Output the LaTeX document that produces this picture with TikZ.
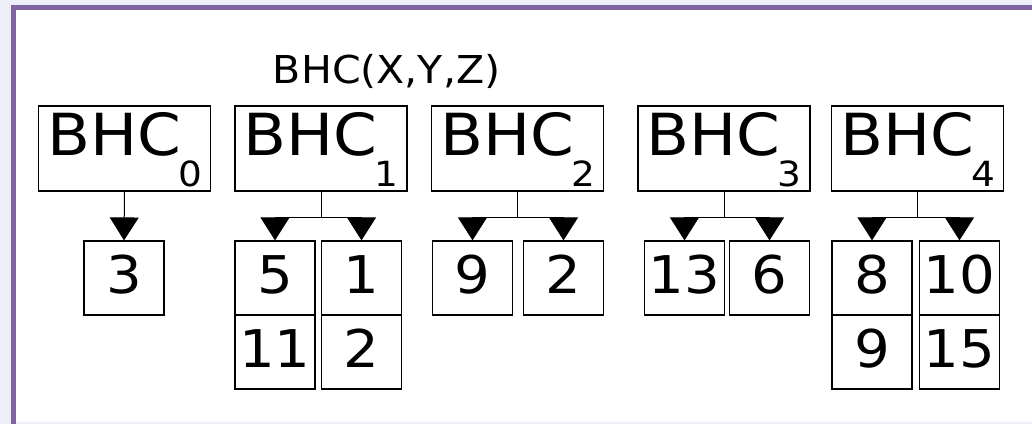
\documentclass[tikz,border=0pt]{standalone}
\usepackage{fontspec}
\setmainfont{DejaVu Sans}[FakeStretch=1.08]
\newfontfamily\titlefont{DejaVu Sans}[FakeStretch=1.07]
\usetikzlibrary{arrows.meta}
\definecolor{bgl}{HTML}{EEEEF8}
\definecolor{frm}{HTML}{8064A2}
\begin{document}
\begin{tikzpicture}[x=0.75pt,y=-0.75pt,
  box/.style={draw,line width=0.9pt,minimum width=129pt,minimum height=63.75pt,inner sep=0pt},
  cell/.style={draw,line width=0.9pt,minimum width=60pt,minimum height=55.5pt,inner sep=0pt,
    font=\fontsize{39pt}{39pt}\selectfont,text height=22.5pt,text depth=0pt},
  big/.style={inner sep=0pt,anchor=base west,font=\fontsize{43.5pt}{43.5pt}\selectfont},
  sub/.style={inner sep=0pt,anchor=base east,font=\fontsize{26pt}{26pt}\selectfont},
  conn/.style={line width=0.75pt},
  arr/.style={conn,-{Triangle[width=21.75pt,length=17.25pt]}}]
% background and frame
\fill[bgl] (0,0) rectangle (1032,424);
\fill[white] (16,10) rectangle (1032,422);
\fill[frm] (11,5) rectangle (16,424);
\fill[frm] (11,5) rectangle (1032,10);
\useasboundingbox (0,0) rectangle (1032,424);
% title
\node[inner sep=0pt,anchor=base west,font=\titlefont\fontsize{28.8pt}{28.8pt}\selectfont] (title) at (272.7,83.3) {BHC(X,Y,Z)};
% BHC boxes
\node[box] (b0) at (124.5,148.5) {};
\node[box] (b1) at (321,148.5) {};
\node[box] (b2) at (517.5,148.5) {};
\node[box] (b3) at (724,148.5) {};
\node[box] (b4) at (917.5,148.5) {};
\node[big] (t0) at (47,156) {BHC};
\node[big] (t1) at (243.5,156) {BHC};
\node[big] (t2) at (440,156) {BHC};
\node[big] (t3) at (646.5,156) {BHC};
\node[big] (t4) at (840,156) {BHC};
\node[sub] (s0) at (202.5,187) {0};
\node[sub] (s1) at (399,187) {1};
\node[sub] (s2) at (595.5,187) {2};
\node[sub] (s3) at (802,187) {3};
\node[sub] (s4) at (995.5,187) {4};
% cells
\node[cell] (c0) at (124,278) {3};
\node[cell] (c1a) at (275,278) {5};
\node[cell] (c1b) at (275,352) {11};
\node[cell] (c1c) at (361.5,278) {1};
\node[cell] (c1d) at (361.5,352) {2};
\node[cell] (c2a) at (472.5,278) {9};
\node[cell] (c2b) at (563.5,278) {2};
\node[cell] (c3a) at (684.5,278) {13};
\node[cell] (c3b) at (769.5,278) {6};
\node[cell] (c4a) at (872,278) {8};
\node[cell] (c4b) at (872,352) {9};
\node[cell] (c4c) at (959.5,278) {10};
\node[cell] (c4d) at (959.5,352) {15};
% connectors
\draw[arr] (b0.south) -- (c0.north);
\coordinate (j1) at (321,218);
\coordinate (j2) at (517.5,218);
\coordinate (j3) at (724,218);
\coordinate (j4) at (917.5,218);
\draw[conn] (b1.south) -- (j1);
\draw[arr] (j1) -| (c1a.north);
\draw[arr] (j1) -| (c1c.north);
\draw[conn] (b2.south) -- (j2);
\draw[arr] (j2) -| (c2a.north);
\draw[arr] (j2) -| (c2b.north);
\draw[conn] (b3.south) -- (j3);
\draw[arr] (j3) -| (c3a.north);
\draw[arr] (j3) -| (c3b.north);
\draw[conn] (b4.south) -- (j4);
\draw[arr] (j4) -| (c4a.north);
\draw[arr] (j4) -| (c4c.north);
\end{tikzpicture}
\end{document}
